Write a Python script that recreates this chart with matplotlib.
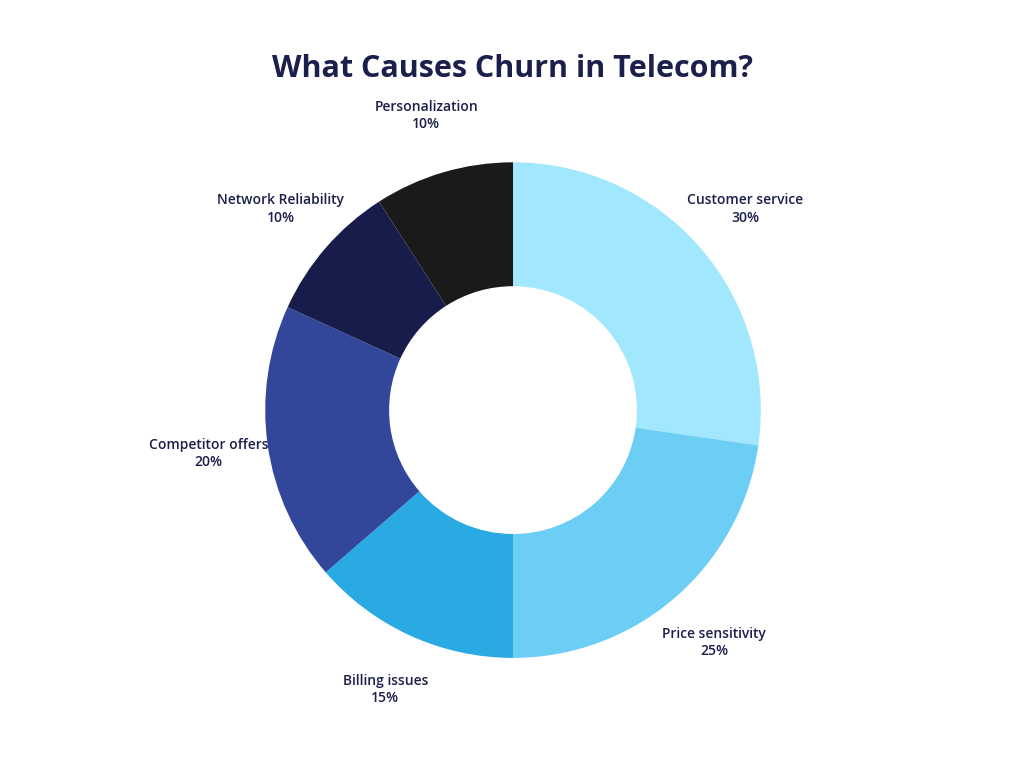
import matplotlib.pyplot as plt

categories = ["Customer service", "Price sensitivity", "Billing issues",
              "Competitor offers", "Network Reliability", "Personalization"]
values = [30, 25, 15, 20, 10, 10]
colors = ["#A1E7FE", "#6DCEF5", "#29AAE2", "#33479A", "#181C4A", "#1A1A1A"]
text_color = "#1B1F4B"

plt.rcParams['font.family'] = ['Open Sans', 'DejaVu Sans']

fig = plt.figure(figsize=(10.24, 7.68), dpi=100)
ax = fig.add_axes([0.259, 0.143, 0.484, 0.646])

labels = [f"{c}\n{v}%" for c, v in zip(categories, values)]
wedges, texts = ax.pie(values, labels=labels, colors=colors, startangle=90,
                       counterclock=False, labeldistance=1.24,
                       wedgeprops=dict(width=0.5, linewidth=0),
                       textprops=dict(color=text_color, fontsize=10, fontweight='semibold'))
for t in texts:
    t.set_ha('center')
    t.set_va('center')
    t.set_linespacing(1.3)
ax.set_xlim(-1, 1)
ax.set_ylim(-1, 1)
ax.set_aspect('equal')

fig.text(0.5, 0.91, "What Causes Churn in Telecom?", ha='center', va='center',
         fontsize=22, fontweight='bold', color=text_color)

fig.savefig("out.png", dpi=100)
